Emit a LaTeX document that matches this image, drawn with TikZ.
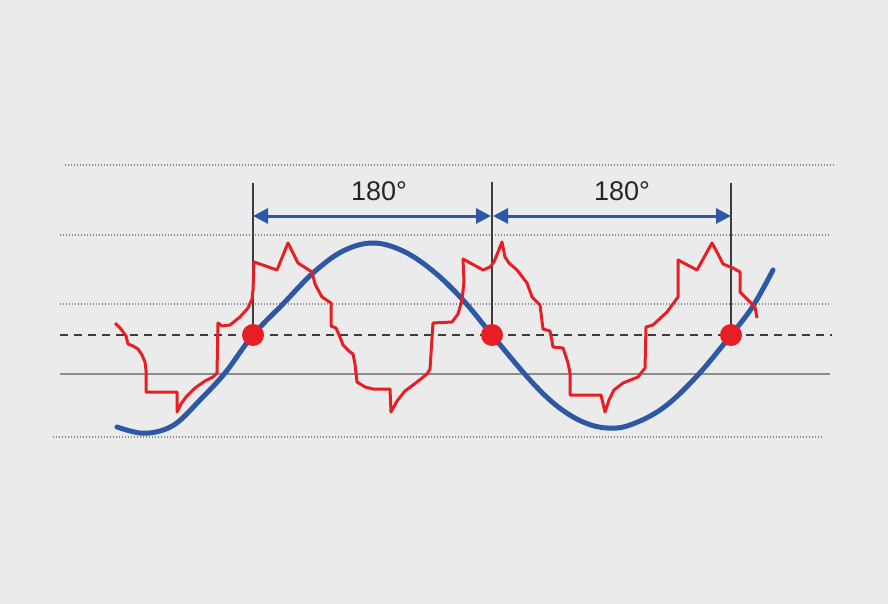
\documentclass[tikz,border=0pt]{standalone}
\usepackage{fontspec}
\setmainfont{Liberation Sans}
\usetikzlibrary{arrows.meta}
\definecolor{bg}{RGB}{235,235,235}
\definecolor{wblue}{RGB}{44,88,166}
\definecolor{wred}{RGB}{232,30,37}
\definecolor{lgray}{RGB}{135,135,135}
\definecolor{mgray}{RGB}{140,140,140}
\definecolor{dgray}{RGB}{60,60,60}
\begin{document}
\begin{tikzpicture}[x=1pt,y=-1pt,
  dotline/.style={lgray, line width=1.2pt, dash pattern=on 1.2pt off 1.8pt},
  zeroline/.style={dgray, line width=2pt, dash pattern=on 8pt off 6pt},
  baseline/.style={mgray, line width=1.5pt},
  vline/.style={dgray, line width=1.2pt},
  spanarrow/.style={wblue, line width=3pt, {Triangle[length=15pt,width=15pt]}-{Triangle[length=15pt,width=15pt]}},
  reddot/.style={circle, fill=wred, minimum size=22pt, inner sep=0pt},
  lbl/.style={text=black!85, font=\fontsize{27}{30}\selectfont, inner sep=0pt},
  bluewave/.style={wblue, line width=5pt, line cap=round},
  redwave/.style={wred, line width=3pt, line join=round}
]
\fill[bg] (0,0) rectangle (888,604);
\useasboundingbox (0,0) rectangle (888,604);

% horizontal guide lines
\coordinate (h1a) at (65,165);  \coordinate (h1b) at (835,165);
\coordinate (h2a) at (60,235);  \coordinate (h2b) at (830,235);
\coordinate (h3a) at (60,304);  \coordinate (h3b) at (830,304);
\coordinate (h4a) at (60,335);  \coordinate (h4b) at (832,335);
\coordinate (h5a) at (60,374);  \coordinate (h5b) at (830,374);
\coordinate (h6a) at (53,437);  \coordinate (h6b) at (822,437);
\draw[dotline] (h1a) -- (h1b);
\draw[dotline] (h2a) -- (h2b);
\draw[dotline] (h3a) -- (h3b);
\draw[zeroline] (h4a) -- (h4b);
\draw[baseline] (h5a) -- (h5b);
\draw[dotline] (h6a) -- (h6b);

% zero-crossing points
\coordinate (z1) at (253,335);
\coordinate (z2) at (492,335);
\coordinate (z3) at (731,335);
\coordinate (t1) at (253,183);
\coordinate (t2) at (492,182);
\coordinate (t3) at (731,183);
\draw[vline] (t1) -- (z1);
\draw[vline] (t2) -- (z2);
\draw[vline] (t3) -- (z3);

% span arrows
\coordinate (a1) at (253,216);
\coordinate (a2l) at (491,216);
\coordinate (a2r) at (493,216);
\coordinate (a3) at (731,216);
\draw[spanarrow] (a1) -- (a2l);
\draw[spanarrow] (a2r) -- (a3);
\node[lbl] (l1) at (379,191) {180°};
\node[lbl] (l2) at (622,191) {180°};

% blue fundamental wave
\draw[bluewave] plot[smooth, tension=0.6] coordinates {
 (117,427) (140,433) (160,431) (178,422) (200,400) (225,373) (253,335)
 (283,304) (313,273) (343,251) (373,243) (403,251) (433,271) (463,300) (492,335)
 (530,380) (557,406) (583,422) (607,428) (630,425) (663,408) (697,376) (731,335)
 (753,306) (773,270)};

% red distorted wave
\draw[redwave] (115,323) -- (121,329) -- (126,336) -- (128,344) -- (133,346) -- (138,349)
 -- (142,355) -- (145,362) -- (146,370) -- (146,392) -- (177,392) -- (177,412)
 -- (181,404) -- (186,397) -- (195,388) -- (205,381) -- (213,377) -- (217,373)
 -- (218,323) -- (222,326) -- (230,325) -- (240,317) -- (248,308) -- (252,299)
 -- (253,290) -- (254,262) -- (277,270) -- (288,243) -- (293,253) -- (298,263)
 -- (312,272) -- (315,284) -- (322,297) -- (331,303) -- (331,326) -- (336,328)
 -- (340,337) -- (343,345) -- (350,352) -- (353,354) -- (355,364) -- (357,382)
 -- (365,387) -- (373,389) -- (390,389) -- (391,412) -- (397,401) -- (405,391)
 -- (417,382) -- (427,374) -- (430,369) -- (433,323) -- (452,322) -- (458,314)
 -- (462,300) -- (464,282) -- (463,259) -- (483,270) -- (490,267) -- (494,262)
 -- (502,242) -- (505,257) -- (509,263) -- (517,270) -- (527,283) -- (532,297)
 -- (540,305) -- (543,329) -- (550,331) -- (553,347) -- (563,348) -- (568,363)
 -- (570,373) -- (570,395) -- (601,395) -- (605,412) -- (609,400) -- (614,390)
 -- (623,383) -- (638,377) -- (645,368) -- (646,327) -- (653,325) -- (667,312)
 -- (678,297) -- (678,260) -- (697,270) -- (712,243) -- (718,254) -- (723,264)
 -- (733,268) -- (740,272) -- (740,292) -- (755,307) -- (757,318);

% red dots
\node[reddot] (d1) at (z1) {};
\node[reddot] (d2) at (z2) {};
\node[reddot] (d3) at (z3) {};
\end{tikzpicture}
\end{document}
